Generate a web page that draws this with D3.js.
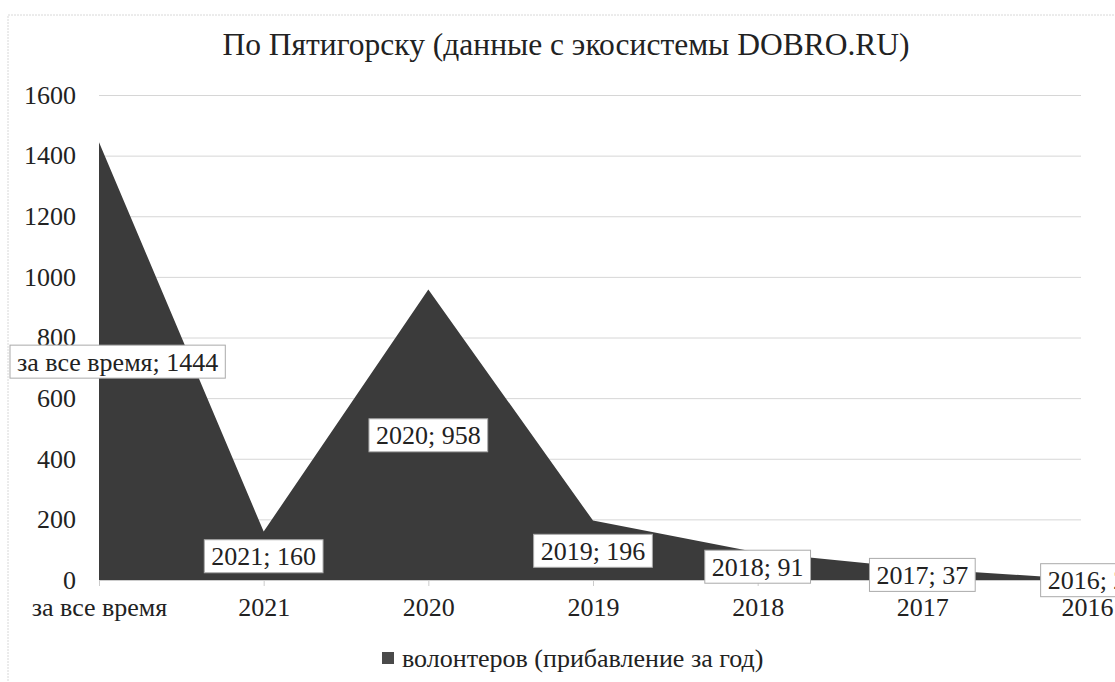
<!DOCTYPE html>
<html>
<head>
<meta charset="utf-8">
<script src="https://cdn.jsdelivr.net/npm/d3@7"></script>
<style>
  body { margin:0; background:#fff; }
  svg { display:block; }
</style>
</head>
<body>
<svg width="1115" height="682" font-family="Liberation Serif"></svg>
<script>
// data
const categories = ['за все время','2021','2020','2019','2018','2017','2016'];
const volunteers = [1444, 160, 958, 196, 91, 37, 2];
const yTicks = [0,200,400,600,800,1000,1200,1400,1600];
const seriesName = 'волонтеров (прибавление за год)';
const title = 'По Пятигорску (данные с экосистемы DOBRO.RU)';

const FONT = 'Liberation Serif';
const svg = d3.select('svg');
const width = +svg.attr('width');

const margin = {top:95, left:99, right:28, bottom:102};
const innerWidth = width - margin.left - margin.right;
const innerHeight = 682 - margin.top - margin.bottom;

const data = categories.map((c,i) => ({cat:c, value:volunteers[i]}));

//outer chart frame (only left/top visible, rest cut off)
svg.append('rect')
   .attr('x',8).attr('y',15)
   .attr('width',1200).attr('height',720)
   .attr('fill','none')
   .attr('stroke','#d8d8d8')
   .attr('stroke-dasharray','2,1');

svg.append('text')
   .text(title)
   .attr('x',566).attr('y',55)
   .attr('text-anchor','middle')
   .attr('font-family',FONT)
   .attr('font-size',31.5)
   .attr('fill','#222');

const xScale = d3.scalePoint()
                 .domain(categories)
                 .range([0,innerWidth]);

const yScale = d3.scaleLinear()
                 .domain([0,1600])
                 .range([innerHeight,0]);

const g = svg.append('g')
             .attr('transform',`translate(${margin.left},${margin.top})`);

//grid lines + y labels
const yAxis = d3.axisLeft(yScale)
                .tickValues(yTicks)
                .tickFormat(d3.format('d'))
                .tickSize(-(innerWidth-6))
                .tickPadding(23);
const yg = g.append('g').call(yAxis).attr('font-family',FONT);
yg.select('.domain').remove();
yg.selectAll('.tick line').attr('stroke','#d6d6d6');
yg.selectAll('.tick text').attr('font-size',26).attr('fill','#222');

//x axis
const xAxis = d3.axisBottom(xScale)
                .tickSize(6)
                .tickPadding(12);
const xg = g.append('g').call(xAxis)
            .attr('font-family',FONT)
            .attr('transform',`translate(0,${innerHeight})`);
xg.select('.domain').attr('stroke','#cccccc');
xg.selectAll('.tick line').attr('stroke','#cccccc');
xg.selectAll('.tick text').attr('font-size',26).attr('fill','#222');

//area
const area = d3.area()
               .x(d => xScale(d.cat))
               .y0(innerHeight)
               .y1(d => yScale(d.value));
g.append('path')
 .datum(data)
 .attr('d',area)
 .attr('fill','#3b3b3b');

//data labels in boxes, placed at half height like excel does
const labels = g.selectAll('.lbl')
   .data(data)
   .enter()
   .append('g')
   .attr('class','lbl');

labels.each(function(d){
    const grp = d3.select(this);
    const t = grp.append('text')
        .text(`${d.cat}; ${d.value}`)
        .attr('font-family',FONT)
        .attr('font-size',26)
        .attr('fill','#222')
        .attr('text-anchor','middle')
        .attr('dominant-baseline','central');
    const w = t.node().getComputedTextLength() + 14;
    let cx = xScale(d.cat);
    if (cx - w/2 < 10 - margin.left) cx = 10 - margin.left + w/2;
    const cy = yScale(d.value/2);
    t.attr('x',cx).attr('y',cy+1);
    grp.insert('rect','text')
       .attr('x',cx - w/2).attr('y',cy - 16)
       .attr('width',w).attr('height',33)
       .attr('fill','#fff')
       .attr('stroke','#aaaaaa')
       .attr('stroke-width',1);
});

//legend
const legend = svg.append('g').attr('transform','translate(382,652)');
legend.append('rect')
      .attr('width',12).attr('height',12)
      .attr('fill','#4a4a4a');
legend.append('text')
      .text(seriesName)
      .attr('x',20).attr('y',15)
      .attr('font-family',FONT)
      .attr('font-size',26)
      .attr('fill','#222');
</script>
</body>
</html>
